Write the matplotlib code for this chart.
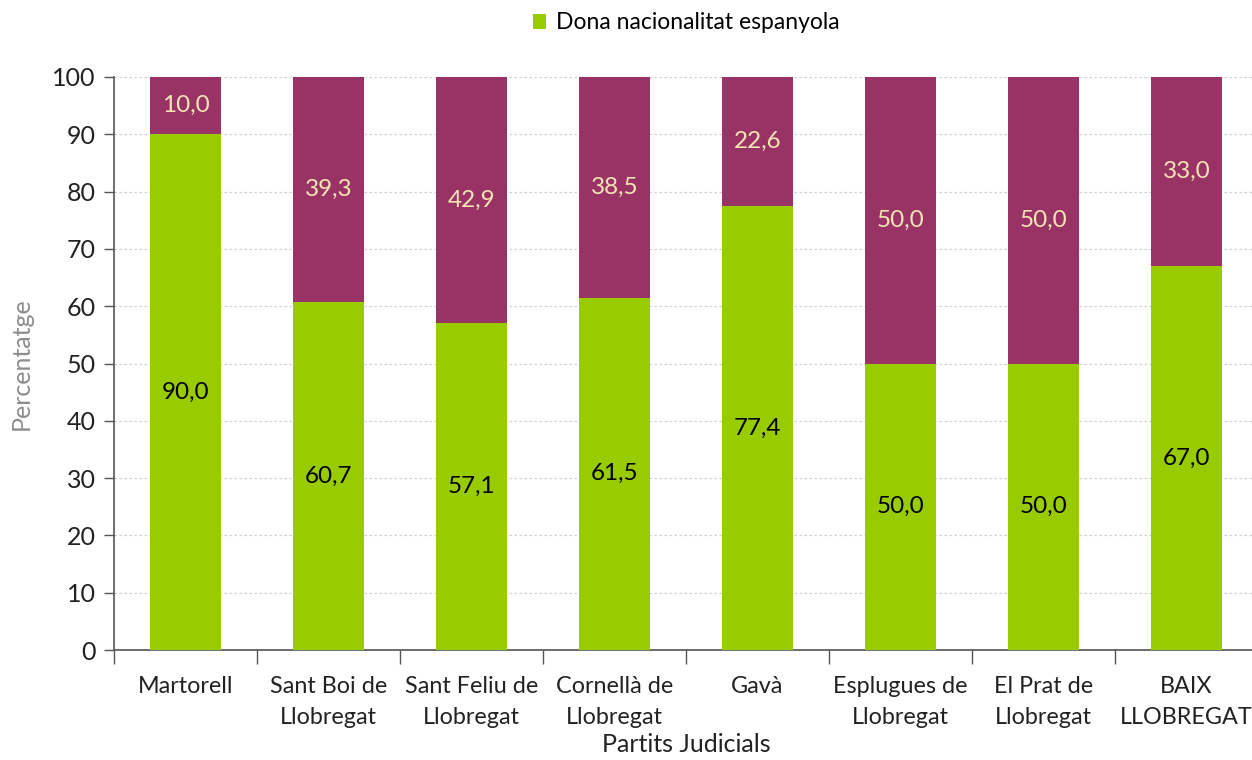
import matplotlib.pyplot as plt
import numpy as np

plt.rcParams['font.family'] = ['Lato', 'DejaVu Sans']

partits = ["Martorell", "Sant Boi de\nLlobregat", "Sant Feliu de\nLlobregat", "Cornellà de\nLlobregat",
           "Gavà", "Esplugues de\nLlobregat", "El Prat de\nLlobregat", "BAIX\nLLOBREGAT"]
espanyola = [90.0, 60.7, 57.1, 61.5, 77.4, 50.0, 50.0, 67.0]
estrangera = [10.0, 39.3, 42.9, 38.5, 22.6, 50.0, 50.0, 33.0]

green = '#99cc00'
purple = '#993366'

fig = plt.figure(figsize=(12.52, 7.6), dpi=100)
ax = fig.add_axes([114/1252, 110/760, 1144/1252, 573/760])

x = np.arange(len(partits))
b1 = ax.bar(x, espanyola, width=0.5, color=green, zorder=3)
b2 = ax.bar(x, estrangera, width=0.5, bottom=espanyola, color=purple, zorder=3)

for i in range(len(partits)):
    ax.text(x[i], espanyola[i] / 2, f"{espanyola[i]:.1f}".replace('.', ','),
            ha='center', va='center', fontsize=17.5, color='black', zorder=4)
    ax.text(x[i], espanyola[i] + estrangera[i] / 2, f"{estrangera[i]:.1f}".replace('.', ','),
            ha='center', va='center', fontsize=17.5, color='#f8e4b4', zorder=4)

ax.set_xlim(-0.5, 7.5)
ax.set_ylim(0, 100)
ax.set_yticks(np.arange(0, 101, 10))
ax.yaxis.grid(True, linestyle=(0, (2, 2)), color='#d0d0d0', linewidth=0.9, zorder=0)
ax.set_xticks(x)
ax.set_xticklabels(partits, fontsize=16.8, color='#222222', linespacing=1.55)
ax.set_xticks(np.arange(-0.5, 7.0, 1.0), minor=True)
ax.tick_params(axis='x', which='major', length=0, pad=19)
ax.tick_params(axis='x', which='minor', length=10, width=1, color='#555555')
ax.tick_params(axis='y', length=7, width=1, color='#555555', labelsize=18, labelcolor='#222222', pad=6)

for s in ['top', 'right']:
    ax.spines[s].set_visible(False)
for s in ['left', 'bottom']:
    ax.spines[s].set_color('#555555')
    ax.spines[s].set_linewidth(1.2)

ax.set_ylabel("Percentatge", fontsize=18, color='#8c8c8c', labelpad=14)
ax.set_xlabel("Partits Judicials", fontsize=18, color='#222222', labelpad=4)

ax.legend([b1[0]], ["Dona nacionalitat espanyola"], loc='lower center', bbox_to_anchor=(0.5, 1.04),
          frameon=False, fontsize=16.5, handlelength=0.6, handleheight=0.6, handletextpad=0.4)

fig.savefig('out.png', dpi=100)
